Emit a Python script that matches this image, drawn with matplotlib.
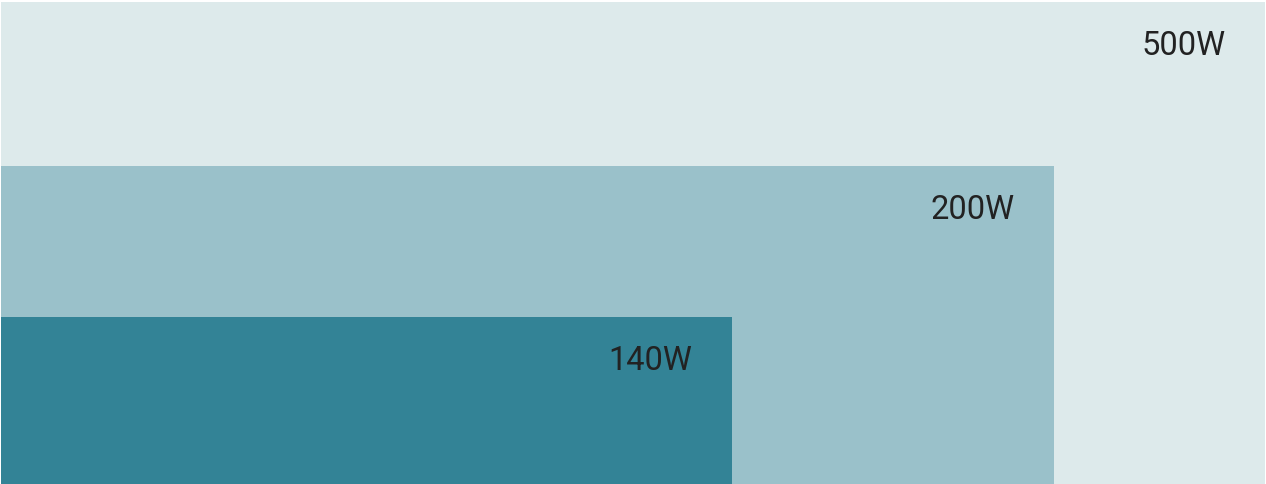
import matplotlib.pyplot as plt
from matplotlib.patches import Rectangle

# power tiers, drawn largest first so smaller ones sit on top
labels = ["500W", "200W", "140W"]
widths = [1.0, 0.833, 0.578]     # share of the outer box width
heights = [1.0, 0.660, 0.346]    # share of the outer box height
colors = ["#DDEAEB", "#9AC1CA", "#338396"]

plt.rcParams["font.family"] = ["Roboto", "DejaVu Sans"]

fig = plt.figure(figsize=(12.66, 4.84), dpi=100)
fig.patch.set_facecolor("white")
ax = fig.add_axes([1 / 1266, 0, 1264 / 1266, 482 / 484])
ax.set_xlim(0, 1)
ax.set_ylim(0, 1)
ax.axis("off")

for label, w, h, c in zip(labels, widths, heights, colors):
    ax.add_patch(Rectangle((0, 0), w, h, facecolor=c, edgecolor="none"))
    ax.annotate(
        label,
        xy=(w, h),
        xytext=(-39, -44),
        textcoords="offset pixels",
        ha="right",
        va="center",
        fontsize=23.5,
        color="#222222",
    )

fig.savefig("out.png", dpi=100, facecolor="white")
